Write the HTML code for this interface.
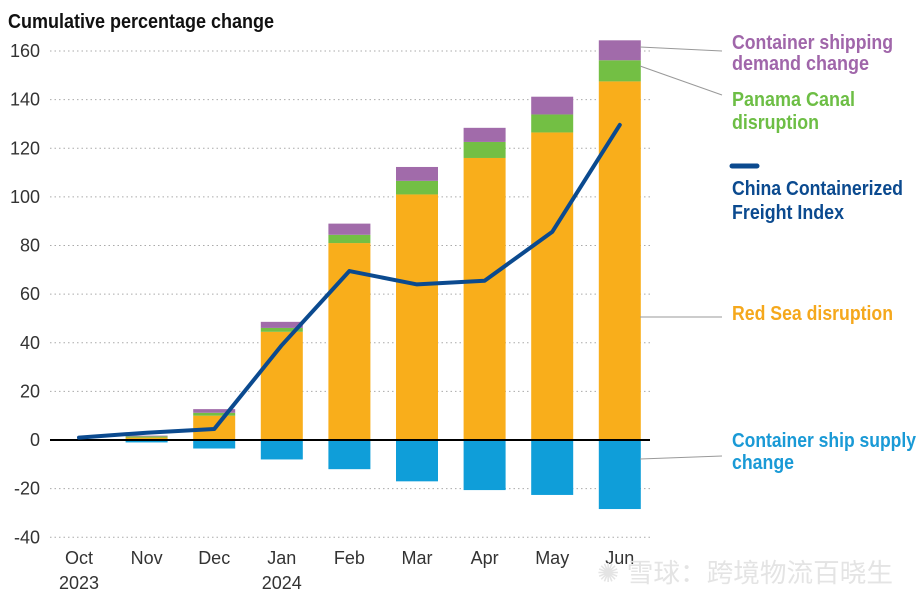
<!DOCTYPE html>
<html><head><meta charset="utf-8"><style>
body{margin:0;background:#fff;width:921px;height:603px;overflow:hidden;font-family:"Liberation Sans Narrow","Liberation Sans",sans-serif}
svg{display:block}
</style></head><body>
<svg id="c" width="921" height="603">
<text x="8" y="28" font-size="20" font-weight="bold" fill="#111" textLength="266" lengthAdjust="spacingAndGlyphs">Cumulative percentage change</text>
<g id="grid"></g><g id="bars"></g><g id="line"></g><g id="labels"></g>
<g font-size="20" font-weight="bold">
<line x1="640" y1="47" x2="722" y2="51" stroke="#999"/>
<line x1="640" y1="66" x2="722" y2="95" stroke="#999"/>
<line x1="640" y1="317" x2="722" y2="317" stroke="#999"/>
<line x1="640" y1="459" x2="722" y2="456" stroke="#999"/>
<text fill="#A066AA" lengthAdjust="spacingAndGlyphs"><tspan x="732" y="49" textLength="161" lengthAdjust="spacingAndGlyphs">Container shipping</tspan><tspan x="732" y="70" textLength="137" lengthAdjust="spacingAndGlyphs">demand change</tspan></text>
<text fill="#6DBE45"><tspan x="732" y="106" textLength="123" lengthAdjust="spacingAndGlyphs">Panama Canal</tspan><tspan x="732" y="129" textLength="87" lengthAdjust="spacingAndGlyphs">disruption</tspan></text>
<line x1="732" y1="166" x2="757" y2="166" stroke="#0B4A8F" stroke-width="5" stroke-linecap="round"/>
<text fill="#0B4A8F"><tspan x="732" y="195" textLength="171" lengthAdjust="spacingAndGlyphs">China Containerized</tspan><tspan x="732" y="219" textLength="112" lengthAdjust="spacingAndGlyphs">Freight Index</tspan></text>
<text x="732" y="320" fill="#F5A81C" textLength="161" lengthAdjust="spacingAndGlyphs">Red Sea disruption</text>
<text fill="#1A9AD6"><tspan x="732" y="447" textLength="184" lengthAdjust="spacingAndGlyphs">Container ship supply</tspan><tspan x="732" y="469" textLength="62" lengthAdjust="spacingAndGlyphs">change</tspan></text>
</g>
<text x="597" y="582" font-size="26" fill="#e4e4e4" textLength="296" lengthAdjust="spacingAndGlyphs" font-family="'Liberation Sans','Noto Sans CJK SC',sans-serif">✺ 雪球：跨境物流百晓生</text>
</svg>
<script>
const months=["Oct","Nov","Dec","Jan","Feb","Mar","Apr","May","Jun"];
const years=["2023","","","2024","","","","",""];
const redSea=[0,1,10,44.5,81,101,116,126.5,147.5];
const panama=[0,0.5,1.2,1.6,3.4,5.6,6.6,7.4,8.7];
const demand=[0,0.3,1.5,2.5,4.6,5.7,5.8,7.3,8.2];
const supply=[0,-1,-3.5,-8,-12,-17,-20.6,-22.6,-28.4];
const ccfi=[1,3,4.5,39,69.5,64,65.5,85.6,129.6];
const yTicks=[-40,-20,0,20,40,60,80,100,120,140,160];
const NS="http://www.w3.org/2000/svg";
const y=v=>440-v*(389/160);
const x=i=>79+i*67.6;
const bw=42;
function mk(t,a,p){const e=document.createElementNS(NS,t);for(const k in a)e.setAttribute(k,a[k]);p.appendChild(e);return e;}
const G=document.getElementById('grid'),B=document.getElementById('bars'),L=document.getElementById('line'),T=document.getElementById('labels');
yTicks.forEach(v=>{
 if(v!==0){const g=mk('line',{x1:50,x2:650,y1:y(v),y2:y(v),stroke:'#aaa','stroke-dasharray':'1.5,3'},G);
 
 }
 const t=mk('text',{x:40,y:y(v)+6,'text-anchor':'end','font-size':18,fill:'#333'},T);t.textContent=v;
 
 
});
months.forEach((m,i)=>{
 const cx=x(i),l=cx-bw/2;
 const segs=[[0,redSea[i],'#F9AE1B','bar-redsea-'+m],[redSea[i],redSea[i]+panama[i],'#73BF44','bar-panama-'+m],[redSea[i]+panama[i],redSea[i]+panama[i]+demand[i],'#A16BAA','bar-demand-'+m],[supply[i],0,'#0F9ED9','bar-supply-'+m]];
 segs.forEach(s=>{if(s[1]-s[0]<=0)return;
  const r=mk('rect',{x:l,y:y(s[1]),width:bw,height:y(s[0])-y(s[1]),fill:s[2]},B);
  
  });
 const t=mk('text',{x:cx,y:564,'text-anchor':'middle','font-size':18,fill:'#333'},T);t.textContent=m;
 
 
 if(years[i]){const yt=mk('text',{x:cx,y:589,'text-anchor':'middle','font-size':18,fill:'#333'},T);yt.textContent=years[i];
 
 }
});
const z=mk('line',{x1:50,x2:650,y1:y(0),y2:y(0),stroke:'#000','stroke-width':2},L);


const p=mk('polyline',{points:ccfi.map((v,i)=>x(i)+','+y(v)).join(' '),fill:'none',stroke:'#0B4A8F','stroke-width':4,'stroke-linejoin':'round','stroke-linecap':'round'},L);


</script>
</body></html>
